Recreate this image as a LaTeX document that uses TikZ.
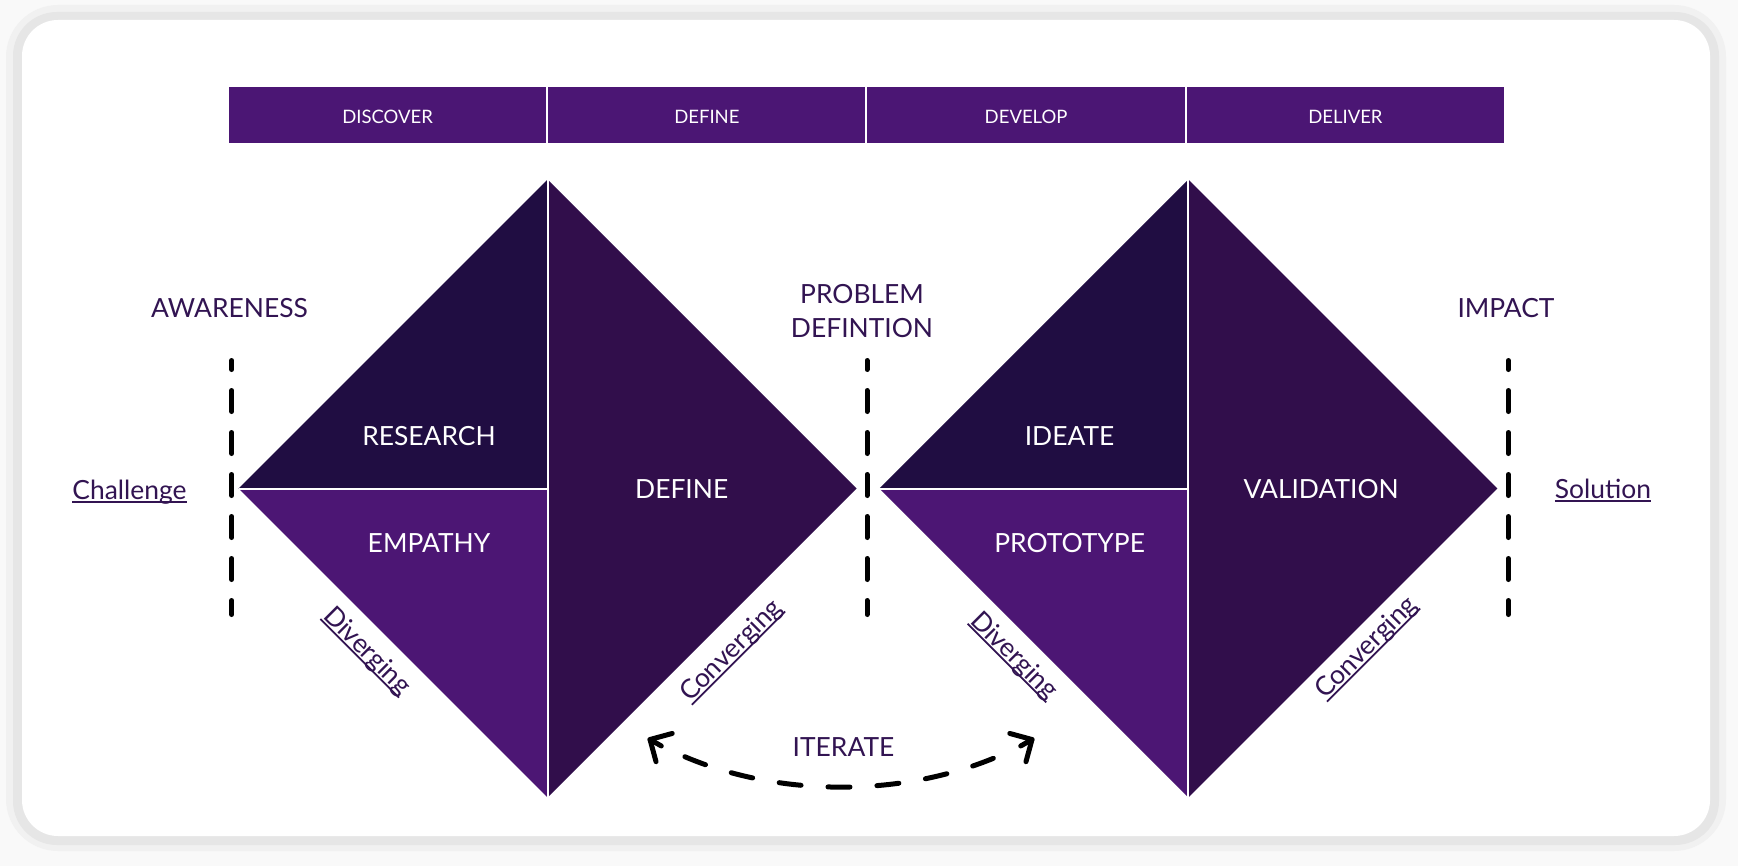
\documentclass[tikz,border=0pt]{standalone}
\usepackage{fontspec}
\setmainfont{Lato}
\usetikzlibrary{calc}
\definecolor{hdr}{RGB}{75,22,116}
\definecolor{dkA}{RGB}{32,13,66}
\definecolor{mdB}{RGB}{76,22,116}
\definecolor{rtC}{RGB}{49,14,75}
\definecolor{txt}{RGB}{50,20,82}
\definecolor{bgc}{RGB}{249,249,249}
\definecolor{shd}{RGB}{230,230,230}
\definecolor{shdb}{RGB}{241,241,241}
\newcommand\ulined[1]{\leavevmode\setbox0=\hbox{#1}\rlap{\vrule width\wd0 height -0.8pt depth 1.7pt}\box0}
\begin{document}
\begin{tikzpicture}[x=0.5pt,y=-0.5pt,
  phasebox/.style={draw=white, line width=1pt, fill=hdr, minimum width=159.625pt, minimum height=28.7pt, inner sep=0pt, text=white, text height=8.9pt, text depth=0pt, font=\fontsize{9.25}{11}\selectfont},
  lbl/.style={inner sep=0pt, text=txt, font=\fontsize{13.2}{17}\selectfont},
  wlbl/.style={inner sep=0pt, text=white, font=\fontsize{13.2}{17}\selectfont},
  stage/.style={line width=2.5pt, line cap=round, dash pattern=on 10.5pt off 10.5pt, dash phase=6pt},
  sepline/.style={white, line width=1pt},
  iter/.style={line width=2.5pt, line cap=round, line join=round},
  iterdash/.style={iter, dash pattern=on 11pt off 13.5pt on 11pt off 13.5pt on 11pt off 13.5pt on 11pt off 13.5pt on 11pt off 13.5pt on 11pt off 13.5pt on 11pt off 79pt, dash phase=217.5pt},
]
\useasboundingbox (0,0) rectangle (1738,866);
% background card
\fill[bgc] (0,0) rectangle (1738,866);
\fill[shdb, rounded corners=26pt] (6,5) rectangle (1726,851);
\fill[shd, rounded corners=22pt] (13,12) rectangle (1719,845);
\fill[white, rounded corners=18pt] (22,20) rectangle (1710,836);

% header
\node[phasebox] (discover) at (387.6,115) {DISCOVER};
\node[phasebox] (definehd) at (706.9,115) {DEFINE};
\node[phasebox] (develop) at (1026.1,115) {DEVELOP};
\node[phasebox] (deliver) at (1345.4,115) {DELIVER};

% diamond 1
\coordinate (d1l) at (238.7,488.5);
\coordinate (d1t) at (547.7,179.5);
\coordinate (d1r) at (856.7,488.5);
\coordinate (d1b) at (547.7,797.5);
\coordinate (d1c) at (547.7,488.5);
\fill[dkA] (d1l) -- (d1t) -- (d1c) -- cycle;
\fill[mdB] (d1l) -- (d1c) -- (d1b) -- cycle;
\fill[rtC] (d1t) -- (d1r) -- (d1b) -- cycle;
\draw[sepline] (d1t) -- (d1b);
\draw[sepline] (d1l) -- (d1c);

% diamond 2
\coordinate (d2l) at (879.3,488.5);
\coordinate (d2t) at (1188.3,179.5);
\coordinate (d2r) at (1497.3,488.5);
\coordinate (d2b) at (1188.3,797.5);
\coordinate (d2c) at (1188.3,488.5);
\fill[dkA] (d2l) -- (d2t) -- (d2c) -- cycle;
\fill[mdB] (d2l) -- (d2c) -- (d2b) -- cycle;
\fill[rtC] (d2t) -- (d2r) -- (d2b) -- cycle;
\draw[sepline] (d2t) -- (d2b);
\draw[sepline] (d2l) -- (d2c);

% stage dashed lines
\coordinate (s1t) at (231.7,360.5); \coordinate (s1b) at (231.7,614.5);
\coordinate (s2t) at (867,360.5);   \coordinate (s2b) at (867,614.5);
\coordinate (s3t) at (1508.3,360.5);\coordinate (s3b) at (1508.3,614.5);
\draw[stage] (s1t) -- (s1b);
\draw[stage] (s2t) -- (s2b);
\draw[stage] (s3t) -- (s3b);

% iterate arc
\coordinate (itL) at (650,739.5);
\coordinate (itR) at (1032,739.5);
\coordinate (c1) at (761,803);
\coordinate (c2) at (921,803);
\draw[iterdash] (itL) .. controls (c1) and (c2) .. (itR);
\draw[iter] ($(itL)!11.5pt!45:(c1)$) -- (itL) -- ($(itL)!11.5pt!-45:(c1)$);
\draw[iter] (itL) -- ($(itL)!6.5pt!(c1)$);
\draw[iter] ($(itR)!11.5pt!45:(c2)$) -- (itR) -- ($(itR)!11.5pt!-45:(c2)$);
\draw[iter] (itR) -- ($(itR)!6.5pt!(c2)$);

% labels in diamonds
\node[wlbl] (research) at (429,436.5) {RESEARCH};
\node[wlbl] (empathy) at (429,543) {EMPATHY};
\node[wlbl] (define) at (681.7,488.8) {DEFINE};
\node[wlbl] (ideate) at (1069.6,435.6) {IDEATE};
\node[wlbl] (prototype) at (1069.6,543) {PROTOTYPE};
\node[wlbl] (validation) at (1321.2,489) {VALIDATION};

% outside labels
\node[lbl] (awareness) at (229.5,308.5) {AWARENESS};
\node[lbl, align=center] (probdef) at (862,311) {PROBLEM\\DEFINTION};
\node[lbl] (impact) at (1506,308) {IMPACT};
\node[lbl, anchor=base] (challenge) at (129.5,499.3) {\ulined{Challenge}};
\node[lbl, anchor=base] (solution) at (1603,498.5) {\ulined{Solution}};
\node[lbl, anchor=base, rotate=-45] (div1) at (361.5,656.5) {\ulined{Diverging}};
\node[lbl, anchor=base, rotate=45] (conv1) at (736.7,656.3) {\ulined{Converging}};
\node[lbl, anchor=base, rotate=-45] (div2) at (1008.7,661.3) {\ulined{Diverging}};
\node[lbl, anchor=base, rotate=45] (conv2) at (1371.8,653.3) {\ulined{Converging}};
\node[lbl] (iterate) at (843.5,747) {ITERATE};
\end{tikzpicture}
\end{document}
